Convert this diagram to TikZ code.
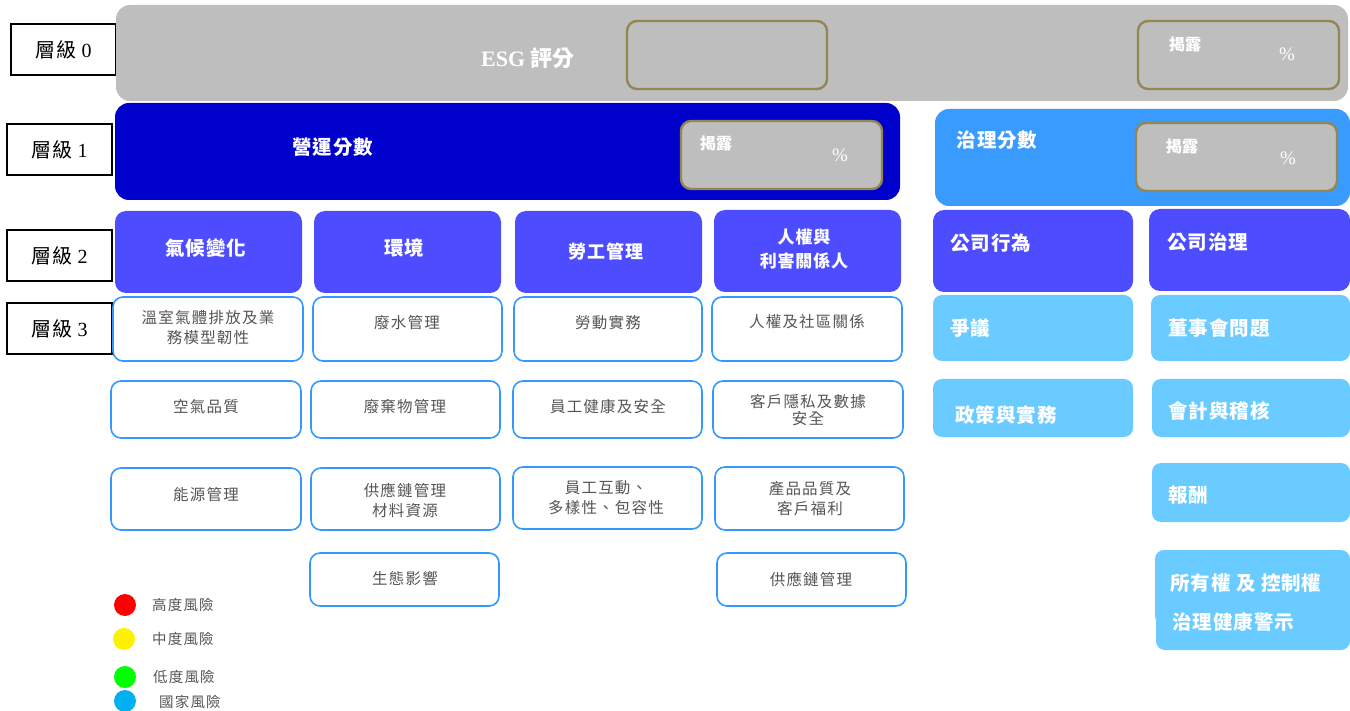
\documentclass[tikz,border=0pt]{standalone}
\usepackage{fontspec}
\setmainfont{Liberation Serif}
\newfontfamily\cjk{Noto Sans CJK TC}
\newfontfamily\cjksp[LetterSpace=8]{Noto Sans CJK TC}
\newfontfamily\cjkw[LetterSpace=5]{Noto Sans CJK TC}
\usetikzlibrary{fit}
\definecolor{esggray}{HTML}{BEBEBE}
\definecolor{olive}{HTML}{94864F}
\definecolor{darkblue}{HTML}{0000CC}
\definecolor{govblue}{HTML}{3A9BFF}
\definecolor{lvtwo}{HTML}{4D4DFF}
\definecolor{lightb}{HTML}{69CBFF}
\definecolor{bordb}{HTML}{3399FF}
\definecolor{txtgray}{HTML}{555555}
\definecolor{ctyblue}{HTML}{00B0F0}
\begin{document}
\begin{tikzpicture}[x=1pt,y=-1pt,
  lvl/.style={draw=black, line width=1.6pt, fill=white, inner sep=0pt},
  lvltxt/.style={font=\cjkw\fontsize{20}{22}\selectfont, text=black},
  esgbg/.style={fill=esggray, rounded corners=14pt, inner sep=0pt},
  opbg/.style={fill=darkblue, rounded corners=14pt, inner sep=0pt},
  govbg/.style={fill=govblue, rounded corners=14pt, inner sep=0pt},
  pct/.style={draw=olive, line width=2.4pt, rounded corners=10pt, inner sep=0pt},
  pctg/.style={pct, fill=esggray},
  cat/.style={fill=lvtwo, rounded corners=11pt, inner sep=0pt},
  sub/.style={draw=bordb, line width=1.6pt, fill=white, rounded corners=10pt, inner sep=0pt},
  gsub/.style={fill=lightb, rounded corners=9pt, inner sep=0pt},
  wtxt/.style={font=\cjkw\bfseries\fontsize{19.5}{24}\selectfont, text=white, align=center, inner sep=0pt},
  wsm/.style={font=\cjk\bfseries\fontsize{16}{18}\selectfont, text=white, inner sep=0pt},
  pcts/.style={font=\fontsize{19}{20}\selectfont, text=white, inner sep=0pt},
  gtxt/.style={font=\cjksp\fontsize{15.5}{20}\selectfont, text=txtgray, align=center, inner sep=0pt},
  legtxt/.style={font=\cjksp\fontsize{14.5}{18}\selectfont, text=txtgray, anchor=west, inner sep=0pt},
  dot/.style={circle, minimum size=22pt, inner sep=0pt}
]
\useasboundingbox (0,0) rectangle (1350,711);

% ---------- level labels
\node[lvl, fit={(11,24) (116,75)}] (L0) {};
\node[lvltxt] (L0t) at (L0.center) {層級 \fontspec{Liberation Serif}0};
\node[lvl, fit={(7,124) (112,175)}] (L1) {};
\node[lvltxt] (L1t) at (L1.center) {層級 \fontspec{Liberation Serif}1};
\node[lvl, fit={(7,230) (112,281)}] (L2) {};
\node[lvltxt] (L2t) at (L2.center) {層級 \fontspec{Liberation Serif}2};
\node[lvl, fit={(7,303) (112,354)}] (L3) {};
\node[lvltxt] (L3t) at (L3.center) {層級 \fontspec{Liberation Serif}3};

% ---------- level 0
\node[esgbg, fit={(116,5) (1348,101)}] (esg) {};
\node[text=white, inner sep=0pt] (esgt) at (528,58) {\fontsize{22}{24}\selectfont\bfseries ESG {\cjk 評分}};
\node[pct, fit={(627,21) (827,89)}] (esgp1) {};
\node[pct, fit={(1138,21) (1339,89)}] (esgp2) {};
\node[wsm] (esgd) at (1185,44) {揭露};
\node[pcts] (esgpc) at (1287,54) {\%};

% ---------- level 1
\node[opbg, fit={(115,103) (900,200)}] (op) {};
\node[wtxt] (opt) at (333,147) {營運分數};
\node[pctg, fit={(681,121) (882,189)}] (opp) {};
\node[wsm] (opd) at (716,143) {揭露};
\node[pcts] (oppc) at (840,155) {\%};

\node[govbg, fit={(935,109) (1350,206)}] (gov) {};
\node[wtxt] (govt) at (997,140) {治理分數};
\node[pctg, fit={(1136,123) (1337,191)}] (govp) {};
\node[wsm] (govd) at (1182,146) {揭露};
\node[pcts] (govpc) at (1288,158) {\%};

% ---------- level 2
\node[cat, fit={(115,211) (302,293)}] (c1) {};
\node[wtxt] (c1t) at (206,248) {氣候變化};
\node[cat, fit={(314,211) (501,293)}] (c2) {};
\node[wtxt] (c2t) at (404,248) {環境};
\node[cat, fit={(515,211) (702,293)}] (c3) {};
\node[wtxt, font=\cjkw\bfseries\fontsize{18}{24}\selectfont] (c3t) at (606,252) {勞工管理};
\node[cat, fit={(714,210) (901,292)}] (c4) {};
\node[wtxt, font=\cjkw\bfseries\fontsize{17}{24}\selectfont] (c4t) at (804,249) {人權與\\利害關係人};
\node[cat, fit={(933,210) (1133,292)}] (c5) {};
\node[wtxt, anchor=west] (c5t) at (950,243) {公司行為};
\node[cat, fit={(1149,209) (1350,291)}] (c6) {};
\node[wtxt, anchor=west] (c6t) at (1167,242) {公司治理};

% ---------- level 3, column 1
\node[sub, fit={(113,297) (303,361)}] (s11) {};
\node[gtxt] (s11t) at (208,328) {溫室氣體排放及業\\務模型韌性};
\node[sub, fit={(111,381) (301,438)}] (s12) {};
\node[gtxt] (s12t) at (206,407) {空氣品質};
\node[sub, fit={(111,468) (301,530)}] (s13) {};
\node[gtxt] (s13t) at (206,495) {能源管理};
% column 2
\node[sub, fit={(313,297) (502,361)}] (s21) {};
\node[gtxt] (s21t) at (407,323) {廢水管理};
\node[sub, fit={(311,381) (500,438)}] (s22) {};
\node[gtxt] (s22t) at (405,407) {廢棄物管理};
\node[sub, fit={(311,468) (500,530)}] (s23) {};
\node[gtxt] (s23t) at (405,500) {供應鏈管理\\材料資源};
\node[sub, fit={(310,553) (499,606)}] (s24) {};
\node[gtxt] (s24t) at (405,579) {生態影響};
% column 3
\node[sub, fit={(514,297) (702,361)}] (s31) {};
\node[gtxt] (s31t) at (608,323) {勞動實務};
\node[sub, fit={(513,381) (702,438)}] (s32) {};
\node[gtxt] (s32t) at (608,407) {員工健康及安全};
\node[sub, fit={(513,467) (702,529)}] (s33) {};
\node[gtxt] (s33t) at (606,498) {員工互動、\\多樣性、包容性};
% column 4
\node[sub, fit={(712,297) (902,361)}] (s41) {};
\node[gtxt] (s41t) at (807,322) {人權及社區關係};
\node[sub, fit={(713,381) (903,438)}] (s42) {};
\node[gtxt, font=\cjksp\fontsize{15.5}{17}\selectfont] (s42t) at (808,410) {客戶隱私及數據\\安全};
\node[sub, fit={(715,467) (904,530)}] (s43) {};
\node[gtxt] (s43t) at (810,499) {產品品質及\\客戶福利};
\node[sub, fit={(717,553) (906,606)}] (s44) {};
\node[gtxt] (s44t) at (811,579) {供應鏈管理};

% ---------- governance sub-items
\node[gsub, fit={(933,295) (1133,361)}] (g11) {};
\node[wtxt, anchor=west] (g11t) at (950,328) {爭議};
\node[gsub, fit={(933,379) (1133,437)}] (g12) {};
\node[wtxt, anchor=west] (g12t) at (955,415) {政策與實務};
\node[gsub, fit={(1151,295) (1350,361)}] (g21) {};
\node[wtxt, anchor=west] (g21t) at (1168,328) {董事會問題};
\node[gsub, fit={(1152,379) (1350,437)}] (g22) {};
\node[wtxt, anchor=west] (g22t) at (1168,411) {會計與稽核};
\node[gsub, fit={(1152,463) (1350,522)}] (g23) {};
\node[wtxt, anchor=west] (g23t) at (1168,495) {報酬};
\node[gsub, fit={(1155,550) (1350,625)}] (g24) {};
\node[wtxt, anchor=west] (g24t) at (1170,583) {所有權 及 控制權};
\node[gsub, fit={(1156,600) (1350,650)}] (g25) {};
\node[wtxt, anchor=west] (g25t) at (1172,622) {治理健康警示};

% ---------- legend
\node[dot, fill=red] (r1) at (125,605) {};
\node[legtxt] (r1t) at (152,605) {高度風險};
\node[dot, fill=yellow] (r2) at (124,639) {};
\node[legtxt] (r2t) at (152,639) {中度風險};
\node[dot, fill=green] (r3) at (125,677) {};
\node[legtxt] (r3t) at (153,677) {低度風險};
\node[dot, fill=ctyblue] (r4) at (125,701) {};
\node[legtxt] (r4t) at (159,702) {國家風險};
\end{tikzpicture}
\end{document}
